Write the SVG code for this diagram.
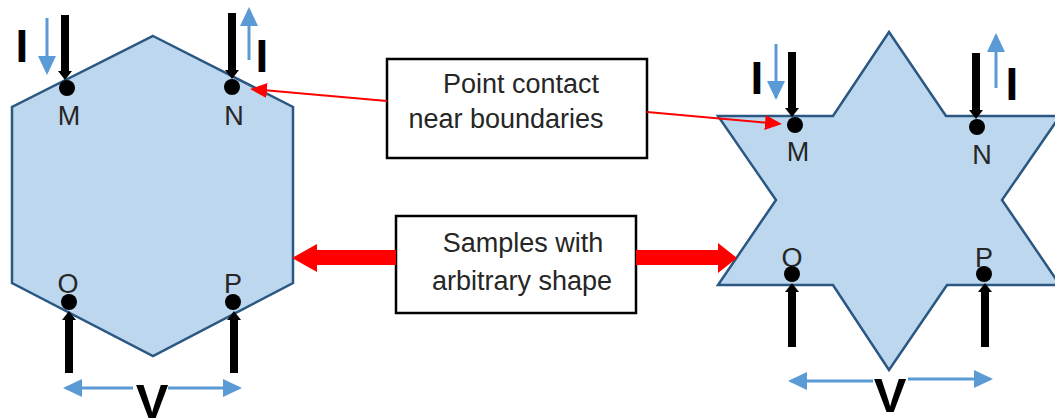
<svg xmlns="http://www.w3.org/2000/svg" width="1055" height="418" viewBox="0 0 1055 418">
  <style>
    .sample { fill: #BDD7EE; stroke: #2B5883; stroke-width: 2.5; stroke-linejoin: miter; }
    .dot { fill: #000; }
    .lead { stroke: #000; stroke-width: 8; fill: none; marker-end: url(#blackHead); }
    .cur { stroke: #5B9BD5; stroke-width: 3; fill: none; marker-end: url(#blueHead); }
    .pin { font-family: "Liberation Sans", Arial, sans-serif; font-size: 27px; fill: #262626; text-anchor: middle; }
    .ibar { font-family: "Liberation Sans", Arial, sans-serif; font-size: 46px; font-weight: bold; fill: #000; text-anchor: middle; }
    .vlab { font-family: "Liberation Sans", Arial, sans-serif; font-size: 49px; font-weight: bold; fill: #000; text-anchor: middle; }
    .box { fill: #fff; stroke: #000; stroke-width: 2.5; }
    .note { font-family: "Liberation Sans", Arial, sans-serif; font-size: 27px; fill: #262626; text-anchor: middle; }
    .pointer { stroke: #FF0000; stroke-width: 2; fill: none; marker-end: url(#redHead); }
    .fat { fill: #FF0000; }
  </style>
  <defs>
    <marker id="blackHead" markerUnits="userSpaceOnUse" markerWidth="9" markerHeight="14" refX="3" refY="7" orient="auto">
      <path d="M0,0 L9,7 L0,14 z" fill="#000"/>
    </marker>
    <marker id="blueHead" markerUnits="userSpaceOnUse" markerWidth="19" markerHeight="18" refX="16" refY="9" orient="auto">
      <path d="M0,0 L19,9 L0,18 z" fill="#5B9BD5"/>
    </marker>
    <marker id="redHead" markerUnits="userSpaceOnUse" markerWidth="17" markerHeight="15" refX="10" refY="7.5" orient="auto">
      <path d="M0,0 L17,7.5 L0,15 z" fill="#FF0000"/>
    </marker>
  </defs>

  <!-- hexagonal sample with four contacts -->
  <g id="hexagon-sample">
    <polygon class="sample" points="153,36 293,107 293,283 153,356 12,283 12,107"/>
    <text class="pin" x="69" y="125">M</text>
    <text class="pin" x="234" y="125">N</text>
    <text class="pin" x="68" y="293">O</text>
    <text class="pin" x="233" y="293">P</text>
    <line class="lead" x1="65" y1="15" x2="65" y2="74"/>
    <line class="lead" x1="232" y1="13" x2="232" y2="73"/>
    <line class="lead" x1="69" y1="373" x2="69" y2="317"/>
    <line class="lead" x1="234" y1="373" x2="234" y2="317"/>
    <circle class="dot" cx="67" cy="88" r="8"/>
    <circle class="dot" cx="232" cy="87" r="8"/>
    <circle class="dot" cx="69" cy="302" r="8"/>
    <circle class="dot" cx="233" cy="302" r="8"/>
    <line class="cur" x1="47" y1="18" x2="47" y2="72"/>
    <line class="cur" x1="249" y1="60" x2="249" y2="10"/>
    <text class="ibar" x="22" y="62">I</text>
    <text class="ibar" x="262" y="72">I</text>
    <line class="cur" x1="133" y1="388" x2="66" y2="388"/>
    <line class="cur" x1="168" y1="388" x2="239" y2="388"/>
    <text class="vlab" x="152" y="418">V</text>
  </g>

  <!-- star-shaped sample with four contacts -->
  <g id="star-sample">
    <polygon class="sample" points="889,32 946,116 1060,116 1002,200 1060,285 947,285 889,370 833,285 718,285 776,200 718,116 833,116"/>
    <text class="pin" x="798" y="161">M</text>
    <text class="pin" x="982" y="164">N</text>
    <text class="pin" x="792" y="267">O</text>
    <text class="pin" x="984" y="267">P</text>
    <line class="lead" x1="792" y1="52" x2="792" y2="111"/>
    <line class="lead" x1="976" y1="53" x2="976" y2="113"/>
    <line class="lead" x1="792" y1="347" x2="792" y2="289"/>
    <line class="lead" x1="985" y1="347" x2="985" y2="289"/>
    <circle class="dot" cx="795" cy="125" r="8"/>
    <circle class="dot" cx="977" cy="127" r="8"/>
    <circle class="dot" cx="792" cy="274" r="8"/>
    <circle class="dot" cx="984" cy="274" r="8"/>
    <line class="cur" x1="776" y1="44" x2="776" y2="97"/>
    <line class="cur" x1="996" y1="88" x2="996" y2="36"/>
    <text class="ibar" x="757" y="94">I</text>
    <text class="ibar" x="1012" y="100">I</text>
    <line class="cur" x1="873" y1="381" x2="791" y2="381"/>
    <line class="cur" x1="908" y1="379" x2="990" y2="379"/>
    <text class="vlab" x="890" y="412">V</text>
  </g>

  <!-- callout boxes -->
  <g id="point-contact-note">
    <rect class="box" x="387" y="59" width="260" height="99"/>
    <text class="note" x="521" y="93">Point contact</text>
    <text class="note" x="506" y="128">near boundaries</text>
  </g>
  <g id="arbitrary-shape-note">
    <rect class="box" x="396" y="216" width="240" height="97"/>
    <text class="note" x="523" y="252">Samples with</text>
    <text class="note" x="522" y="290">arbitrary shape</text>
  </g>

  <!-- connectors from the notes to the samples -->
  <g id="connectors">
    <line class="pointer" x1="387" y1="101" x2="257" y2="89.6"/>
    <line class="pointer" x1="647" y1="112" x2="775" y2="123.4"/>
    <polygon class="fat" points="396,250 317,250 317,244 292,258 317,272 317,265 396,265"/>
    <polygon class="fat" points="636,250 718,250 718,243 737,258 718,273 718,265 636,265"/>
  </g>
</svg>
